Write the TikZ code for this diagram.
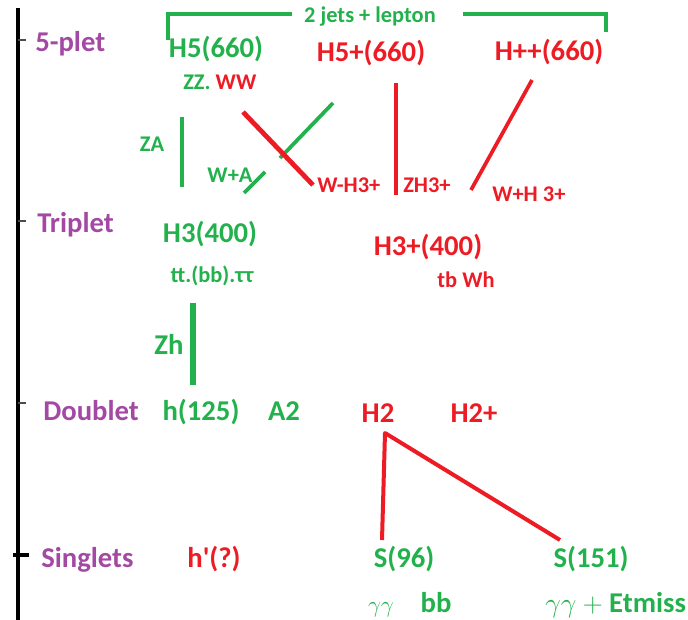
\documentclass[tikz,border=0pt]{standalone}
\usepackage{fontspec}
\setmainfont{Carlito}
\definecolor{pgreen}{HTML}{22B14C}
\definecolor{pred}{HTML}{ED1C24}
\definecolor{ppurple}{HTML}{A349A4}
\tikzset{
  big/.style={font=\fontsize{21.5}{24}\selectfont\bfseries,inner sep=0pt},
  small/.style={font=\fontsize{16.8}{18}\selectfont\bfseries,inner sep=0pt},
  lvl/.style={big,text=ppurple,anchor=base west},
  gtxt/.style={text=pgreen},
  rtxt/.style={text=pred},
  gline/.style={pgreen,line width=2.8pt},
  rline/.style={pred,line width=2.8pt}
}

\begin{document}
\begin{tikzpicture}[x=0.75pt,y=-0.75pt]
    \useasboundingbox (0,0) rectangle (688,620);
    % axis
    \draw[line width=3pt] (18,8)--(18,620);
    \foreach \y in {40,221,403}{
        \draw[line width=1.2pt,black!70] (18,\y)--(26,\y);
    }
    \draw[line width=2.5pt] (13,555)--(29,555);
    \node (plet) at (35,52)[lvl]{5-plet};
    \node (trip) at (37,233)[lvl]{Triplet};
    \node (doub) at (43,420)[lvl]{Doublet};
    \node (sing) at (41,567)[lvl]{Singlets};
    % 5-plet
    \node (jets) at (370,23)[small,gtxt,anchor=base]{2 jets + lepton};
    \node (h5) at (216,58)[big,gtxt,anchor=base]{H5(660)};
    \node (h5p) at (371,62)[big,rtxt,anchor=base]{H5+(660)};
    \node (hpp) at (549,61)[big,rtxt,anchor=base]{H++(660)};
    \node (zzww) at (183,90)[small,gtxt,anchor=base west]{ZZ. {\color{pred}WW}};
    \coordinate (brLa) at (168,40);
    \coordinate (brLb) at (168,14);
    \coordinate (brLc) at (292,14);
    \coordinate (brRa) at (463,14);
    \coordinate (brRb) at (606,14);
    \coordinate (brRc) at (606,32);
    \draw[gline,line width=2.6pt] (brLa)--(brLb)--(brLc);
    \draw[gline,line width=2.6pt] (brRa)--(brRb)--(brRc);
    % 5-plet -> triplet decays
    \node (za) at (152,152)[small,gtxt,anchor=base]{ZA};
    \node (wa) at (230,183)[small,gtxt,anchor=base]{W+A};
    \node (wmh) at (317,193)[small,rtxt,anchor=base west]{W-H3+};
    \node (zh3) at (403,193)[small,rtxt,anchor=base west]{ZH3+};
    \node (wph) at (492,202)[small,rtxt,anchor=base west]{W+H 3+};
    \coordinate (za1) at (182,117);
    \coordinate (za2) at (182,187);
    \coordinate (wa1) at (244,193);
    \coordinate (wa2) at (265,172);
    \coordinate (wx1) at (333,103);
    \coordinate (wx2) at (280,158);
    \coordinate (wm1) at (243,112);
    \coordinate (wm2) at (313,185);
    \coordinate (zh1) at (396,83);
    \coordinate (zh2) at (396,195);
    \coordinate (wp1) at (532,80);
    \coordinate (wp2) at (471,190);
    \draw[gline] (za1)--(za2);
    \draw[gline] (wa1)--(wa2);
    \draw[gline] (wx1)--(wx2);
    \draw[rline,line width=3.6pt] (wm1)--(wm2);
    \draw[rline] (zh1)--(zh2);
    \draw[rline] (wp1)--(wp2);
    % triplet
    \node (h3) at (210,243)[big,gtxt,anchor=base]{H3(400)};
    \node (h3p) at (428,255)[big,rtxt,anchor=base]{H3+(400)};
    \node (h3dec) at (212,282)[small,gtxt,anchor=base]{tt.(bb).ττ};
    \node (h3pdec) at (466,287)[small,rtxt,anchor=base]{tb Wh};
    \node (zh) at (169,354)[big,gtxt,anchor=base]{Zh};
    \coordinate (zht) at (193,303);
    \coordinate (zhb) at (193,385);
    \draw[gline,line width=3.8pt] (zht)--(zhb);
    % doublet
    \node (h125) at (201,420)[big,gtxt,anchor=base]{h(125)};
    \node (a2) at (284,420)[big,gtxt,anchor=base]{A2};
    \node (h2) at (378,422)[big,rtxt,anchor=base]{H2};
    \node (h2p) at (474,422)[big,rtxt,anchor=base]{H2+};
    % singlets
    \node (hq) at (214,567)[big,rtxt,anchor=base]{h\textquotesingle(?)};
    \node (s96) at (404,567)[big,gtxt,anchor=base]{S(96)};
    \node (s151) at (591,567)[big,gtxt,anchor=base]{S(151)};
    \node (gg) at (381,612)[small,gtxt,anchor=base]{$\gamma\gamma$};
    \node (bb) at (436,612)[big,gtxt,anchor=base]{bb};
    \node (ggmet) at (545,612)[big,gtxt,anchor=base west]{$\gamma\gamma$ $+$ Etmiss};
    \coordinate (apex) at (385,433);
    \coordinate (s96t) at (382,540);
    \coordinate (s151t) at (560,540);
    \draw[rline,line width=3pt,line join=round] (s96t)--(apex)--(s151t);
\end{tikzpicture}
\end{document}
